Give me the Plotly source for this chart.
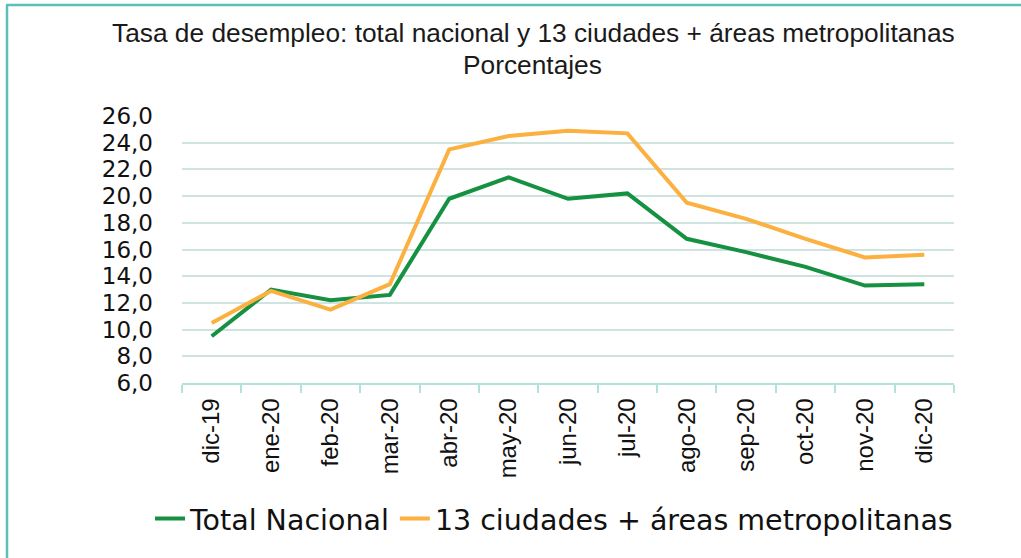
import plotly.graph_objects as go

# Datos (lectura del grafico)
meses = ["dic-19", "ene-20", "feb-20", "mar-20", "abr-20", "may-20", "jun-20",
         "jul-20", "ago-20", "sep-20", "oct-20", "nov-20", "dic-20"]
total_nacional = [9.5, 13.0, 12.2, 12.6, 19.8, 21.4, 19.8, 20.2, 16.8, 15.8, 14.7, 13.3, 13.4]
trece_ciudades = [10.5, 12.9, 11.5, 13.4, 23.5, 24.5, 24.9, 24.7, 19.5, 18.3, 16.8, 15.4, 15.6]
y_ticks = [6, 8, 10, 12, 14, 16, 18, 20, 22, 24, 26]

W, H = 1021, 558
L, R, T, B = 182, 67, 116, 175
pw, ph = W - L - R, H - T - B

def px_x(px):
    return (px - L) / pw

def px_y(py):
    return (H - B - py) / ph

fig = go.Figure()
fig.add_trace(go.Scatter(x=meses, y=total_nacional, mode="lines", name="Total Nacional",
                         line=dict(color="#169142", width=4)))
fig.add_trace(go.Scatter(x=meses, y=trece_ciudades, mode="lines",
                         name="13 ciudades + áreas metropolitanas",
                         line=dict(color="#fbb040", width=4)))

teal = "#5cbfb9"
fig.update_layout(
    width=W, height=H,
    margin=dict(l=L, r=R, t=T, b=B),
    paper_bgcolor="white", plot_bgcolor="white",
    separators=",.",
    showlegend=True,
    legend=dict(orientation="h", x=px_x(150), y=px_y(519), xanchor="left", yanchor="middle",
                font=dict(family="DejaVu Sans", size=28.5, color="#111"),
                itemwidth=30, tracegroupgap=0, bgcolor="rgba(0,0,0,0)"),
    annotations=[
        dict(text="Tasa de desempleo: total nacional y 13 ciudades + áreas metropolitanas",
             x=px_x(533), y=px_y(33), xref="paper", yref="paper", showarrow=False,
             xanchor="center", yanchor="middle",
             font=dict(family="Liberation Sans", size=26.3, color="#1a1a1a")),
        dict(text="Porcentajes",
             x=px_x(532), y=px_y(65), xref="paper", yref="paper", showarrow=False,
             xanchor="center", yanchor="middle",
             font=dict(family="Liberation Sans", size=26.3, color="#1a1a1a")),
    ],
    shapes=[
        dict(type="line", xref="paper", yref="paper", x0=px_x(6), x1=px_x(W), y0=px_y(5), y1=px_y(5),
             line=dict(color=teal, width=2.5)),
        dict(type="line", xref="paper", yref="paper", x0=px_x(7), x1=px_x(7), y0=px_y(5), y1=px_y(H),
             line=dict(color=teal, width=2.5)),
    ],
)

fig.update_xaxes(
    type="category", tickangle=-90, range=[-0.5, len(meses) - 0.5],
    tickfont=dict(family="Liberation Sans", size=24, color="#111"),
    showline=True, linecolor="#b3e2db", linewidth=1.5,
    ticks="outside", tickson="boundaries", ticklen=8, tickcolor="#b3e2db", tickwidth=1.5,
    showgrid=False, ticklabelstandoff=4,
)
fig.update_yaxes(
    range=[6, 26], tickvals=y_ticks, tickformat=".1f",
    tickfont=dict(family="DejaVu Sans", size=23, color="#111"),
    showgrid=True, gridcolor="#cfe3e0", gridwidth=1.5,
    zeroline=False, showline=False, ticks="", ticklabelstandoff=28,
)

fig.write_html("out.html", config={"displayModeBar": False},
               post_script="document.body.style.margin='0';")
